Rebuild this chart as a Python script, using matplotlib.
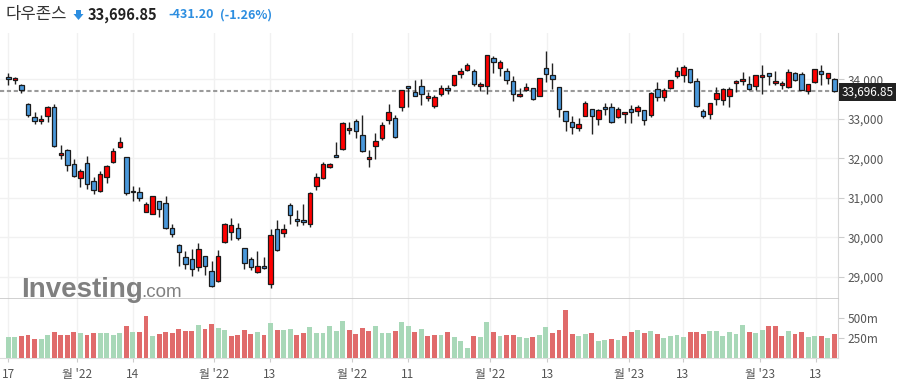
import numpy as np
import matplotlib
matplotlib.use("Agg")
import matplotlib.pyplot as plt
import matplotlib.transforms as mtransforms
from matplotlib.patches import Polygon

plt.rcParams['font.family'] = ['Noto Sans CJK KR', 'DejaVu Sans']

# weekly OHLC
opens = [34058, 33975, 33856, 33367, 33037, 32936, 33063, 33306, 32075, 32202,
         31847, 31493, 31872, 31416, 31163, 31518, 31898, 32278, 32024, 31170,
         31138, 30646, 30596, 30910, 30859, 30233, 29795, 29491, 29441, 29238,
         29517, 29136, 28883, 29871, 30125, 30226, 29719, 29441, 29111, 29263,
         28807, 30201, 30100, 30808, 30461, 30428, 30327, 31290, 31493, 31771,
         32075, 32227, 32708, 32936, 32581, 31973, 32303, 32505, 32962, 33012,
         33291, 33823, 33671, 33823, 33519, 33316, 33620, 33772, 33848, 34127,
         34228, 34203, 33823, 33823, 34532, 34279, 34203, 33949, 33570, 33722,
         33772, 33570, 34279, 34101, 33797, 33190, 32911, 32759, 33063, 33240,
         32987, 33291, 33291, 33037, 33113, 33240, 33190, 33215, 33088, 33747,
         33544, 33772, 34076, 34101, 34253, 33949, 33190, 33113, 33494, 33468,
         33570, 33899, 33949, 33873, 33823, 34051, 34152, 33899, 33848, 33797,
         34152, 34127, 33696, 33924, 34203, 34025, 34000]
highs = [34167, 34066, 33881, 33392, 33164, 33096, 33331, 33374, 32343, 32227,
         31973, 31736, 32050, 31518, 31677, 31822, 32252, 32531, 32030, 31290,
         31280, 30884, 31045, 30925, 31036, 30327, 29828, 29643, 29694, 29846,
         29525, 29390, 29669, 30352, 30479, 30352, 29725, 29491, 29643, 29491,
         30201, 30429, 30327, 30859, 30682, 30834, 31138, 31619, 31898, 31880,
         32405, 32911, 32911, 32987, 33088, 32202, 32632, 32911, 33367, 33088,
         33730, 33830, 33975, 34000, 33671, 33595, 33848, 33848, 34110, 34279,
         34405, 34253, 33924, 34616, 34583, 34481, 34279, 34076, 33772, 33899,
         33780, 34033, 34709, 34405, 33805, 33197, 33063, 33012, 33443, 33248,
         33240, 33392, 33392, 33291, 33172, 33341, 33341, 33222, 33671, 33924,
         33772, 33982, 34304, 34355, 34261, 34025, 33240, 33400, 33797, 33772,
         33797, 33975, 34177, 34076, 34110, 34355, 34160, 34203, 33949, 34253,
         34177, 34177, 33880, 34261, 34355, 34160, 34025]
lows = [33856, 33881, 33645, 33037, 32875, 32860, 32911, 32278, 31989, 31685,
        31530, 31265, 31214, 31087, 31153, 31366, 31890, 32270, 31062, 30910,
        30910, 30631, 30588, 30505, 30220, 30013, 29278, 29187, 29010, 29152,
        29035, 28750, 28875, 29865, 29922, 29922, 29187, 29162, 29105, 29187,
        28706, 29643, 30013, 30327, 30276, 30302, 30251, 31188, 31467, 31746,
        32020, 32202, 32607, 32505, 32170, 31771, 31973, 32455, 32860, 32505,
        33190, 33291, 33565, 33341, 33443, 33265, 33570, 33620, 33843, 34025,
        34203, 33823, 33696, 33620, 34152, 34076, 33873, 33443, 33544, 33696,
        33488, 33565, 33924, 33747, 33037, 32683, 32607, 32683, 33058, 32607,
        32835, 33088, 32905, 33012, 32886, 32886, 33063, 32835, 33037, 33443,
        33443, 33767, 34025, 33924, 33899, 33291, 33012, 32987, 33341, 33341,
        33291, 33671, 33848, 33722, 33722, 33620, 33848, 33848, 33747, 33772,
        33949, 33717, 33620, 33919, 33848, 33873, 33690]
closes = [34000, 34025, 33721, 33088, 32936, 32987, 33306, 32303, 32126, 31822,
          31543, 31670, 31348, 31188, 31594, 31796, 32184, 32405, 31130, 31140,
          30986, 30834, 31036, 30722, 30226, 30089, 29618, 29314, 29187, 29694,
          29263, 28756, 29517, 30327, 30302, 29973, 29339, 29238, 29263, 29213,
          30049, 29669, 30208, 30555, 30403, 30378, 31112, 31518, 31847, 31855,
          32024, 32886, 32759, 32683, 32176, 32024, 32430, 32835, 33164, 32531,
          33722, 33772, 33570, 33620, 33570, 33560, 33772, 33722, 34101, 34203,
          34355, 33873, 33880, 34608, 34431, 34440, 33975, 33620, 33630, 33797,
          33494, 34025, 34127, 34000, 33240, 32936, 32784, 32860, 33392, 33063,
          33215, 33240, 32911, 33240, 33164, 33160, 33291, 32962, 33645, 33544,
          33722, 33975, 34203, 34304, 33924, 33316, 33063, 33392, 33645, 33747,
          33755, 33949, 34000, 33747, 34101, 34110, 34076, 33949, 33899, 34177,
          33975, 33722, 33873, 34253, 34127, 34152, 33696.85]
# volume in millions
volumes = [262, 262, 275, 288, 238, 238, 283, 325, 288, 288,
           325, 312, 288, 312, 312, 312, 288, 312, 400, 325,
           325, 525, 275, 300, 325, 312, 362, 338, 338, 412,
           362, 425, 375, 350, 275, 288, 350, 300, 325, 288,
           438, 350, 350, 362, 288, 312, 388, 312, 312, 400,
           338, 462, 350, 300, 375, 338, 400, 312, 312, 338,
           450, 400, 325, 362, 275, 288, 288, 325, 258, 208,
           121, 271, 258, 450, 325, 271, 283, 283, 258, 246,
           258, 283, 383, 308, 346, 596, 296, 271, 296, 308,
           208, 221, 233, 221, 271, 321, 346, 308, 333, 296,
           246, 271, 283, 258, 321, 321, 296, 333, 333, 271,
           321, 296, 408, 321, 308, 346, 396, 396, 271, 333,
           296, 321, 258, 271, 271, 246, 296]

tick_pos = [0, 10.5, 19, 31.4, 39.9, 52.4, 60.9, 73.5, 82.2, 94.7, 102.9, 114.7, 123.2]
tick_labels = ['17', "월 '22", '14', "월 '22", '13', "월 '22", '11', "월 '22",
               '13', "월 '23", '13', "월 '23", '13']
price_ticks = [29000, 30000, 31000, 32000, 33000, 34000]
vol_ticks = [250, 500]

o = np.array(opens, dtype=float)
h = np.array(highs, dtype=float)
l = np.array(lows, dtype=float)
c = np.array(closes, dtype=float)
v = np.array(volumes, dtype=float)
x = np.arange(len(c))
last = c[-1]

fig = plt.figure(figsize=(9.03, 3.91), dpi=100)
ax = fig.add_axes([0, 1 - 299 / 391, 838 / 903, 266 / 391])
axv = fig.add_axes([0, 1 - 358 / 391, 838 / 903, 59 / 391], sharex=ax)

# candles
up = c >= o
body_col = np.where(up, '#ff0000', '#4a98db')
ax.vlines(x, l, h, color='#222222', lw=1.0, zorder=3)
body_h = np.maximum(np.abs(c - o), 40)
ax.bar(x, body_h, bottom=np.minimum(o, c), width=0.68, color=body_col,
       edgecolor='#1a1a1a', linewidth=0.9, zorder=4)

ax.axhline(last, color='#9a9a9a', lw=1.5, ls=(0, (2, 1.3)), zorder=2)

ax.set_xlim(-1.27, 126.56)
ax.set_ylim(28435, 35173)
ax.yaxis.tick_right()
ax.set_yticks(price_ticks)
ax.set_yticklabels([f'{t:,}' for t in price_ticks])
ax.tick_params(axis='y', colors='#cccccc', labelcolor='#555555', labelsize=8.5,
               length=4, pad=3)
ax.tick_params(axis='x', length=0, labelbottom=False)
ax.set_xticks(tick_pos)
ax.grid(color='#f1f1f1', lw=1, zorder=0)
ax.set_axisbelow(True)
for s in ['top', 'left']:
    ax.spines[s].set_visible(False)
ax.spines['right'].set_color('#d6d6d6')
ax.spines['bottom'].set_color('#c8c8c8')
ax.spines['bottom'].set_linewidth(1.2)

trans = mtransforms.blended_transform_factory(ax.transAxes, ax.transData)
ax.text(1.004, last - 25, f'{last:,.2f}', transform=trans, ha='left', va='center',
        color='white', fontsize=8.5, zorder=10, clip_on=False,
        bbox=dict(boxstyle='square,pad=0.2', fc='#222222', ec='none'))

# volume
vol_up = np.concatenate([[True], c[1:] >= c[:-1]])
vol_col = np.where(vol_up, '#a8d8b8', '#e06b6b')
axv.bar(x, v, width=0.76, color=vol_col, zorder=3)
axv.set_ylim(0, 737)
axv.yaxis.tick_right()
axv.set_yticks(vol_ticks)
axv.set_yticklabels([f'{t}m' for t in vol_ticks])
axv.tick_params(axis='y', colors='#cccccc', labelcolor='#555555', labelsize=8.5,
                length=4, pad=3)
axv.set_xticks(tick_pos)
axv.set_xticklabels(tick_labels)
axv.tick_params(axis='x', colors='#cccccc', labelcolor='#555555', labelsize=8.5,
                length=3, pad=4)
axv.grid(axis='x', color='#f1f1f1', lw=1, zorder=0)
axv.set_axisbelow(True)
for s in ['top', 'left']:
    axv.spines[s].set_visible(False)
axv.spines['right'].set_color('#d6d6d6')
axv.spines['bottom'].set_color('#dddddd')

# header
W, H = 903, 391
ty = 1 - 15 / H
fig.text(6 / W, ty, '다우존스', fontsize=12, color='#333333', va='center')
arrow = [(76, 10), (81, 10), (81, 14), (83.5, 14), (78.5, 20),
         (73.5, 14), (76, 14)]
fig.patches.append(Polygon([(px / W, 1 - py / H) for px, py in arrow], closed=True,
                           transform=fig.transFigure, fc='#2d8ee0', ec='none'))
fig.text(88 / W, ty, '33,696.85', fontsize=10.5, color='#222222',
         fontweight='bold', va='center')
fig.text(168 / W, ty, '-431.20', fontsize=9, color='#2d8ee0',
         fontweight='bold', va='center')
fig.text(220 / W, ty, '(-1.26%)', fontsize=9, color='#2d8ee0',
         fontweight='bold', va='center')

# watermark
fig.text(21 / W, 1 - 297 / H, 'Investing', fontsize=20, fontweight='bold',
         color='#808080', family=['Liberation Sans'], va='baseline')
fig.text(141 / W, 1 - 297 / H, '.com', fontsize=13.5, color='#808080',
         family=['Liberation Sans'], va='baseline')

fig.savefig('out.png', dpi=100)
